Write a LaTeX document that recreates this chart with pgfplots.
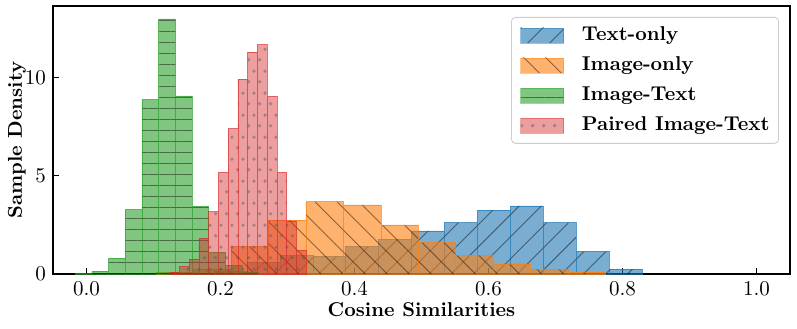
\documentclass[border=0pt]{standalone}
\usepackage{fontspec}
\usepackage{pgfplots}
\pgfplotsset{compat=1.18}
\usetikzlibrary{patterns.meta}

\definecolor{tabblue}{HTML}{1F77B4}
\definecolor{taborange}{HTML}{FF7F0E}
\definecolor{tabgreen}{HTML}{2CA02C}
\definecolor{tabred}{HTML}{D62728}
\definecolor{dotgray}{HTML}{4A5A64}

% staggered dots, like matplotlib's '.' hatch
\tikzdeclarepattern{
  name=stagdots,
  type=uncolored,
  bottom left={(0pt,0pt)},
  top right={(5.65pt,11pt)},
  tile size={(5.65pt,11pt)},
  code={
    \fill (1.4pt,2.75pt) circle[radius=0.95pt];
    \fill (4.225pt,8.25pt) circle[radius=0.95pt];
  }
}

\pgfplotsset{
  histbar/.style={
    ybar interval, line width=0.25pt,
    legend image code/.code={\fill[##1, draw=none, sharp corners] (0pt,-3.7pt) rectangle (21.5pt,3.7pt);},
  },
}

\begin{document}
\begin{tikzpicture}
\begin{axis}[
  scale only axis,
  width=368.5pt, height=134pt,
  xmin=-0.05, xmax=1.05,
  ymin=0, ymax=13.65,
  xtick={0,0.2,0.4,0.6,0.8,1.0},
  ytick={0,5,10},
  tick align=inside,
  xtick pos=left, ytick pos=left,
  major tick length=3pt,
  axis line style={line width=0.6pt},
  tick style={line width=0.5pt, black},
  /pgf/number format/assume math mode=true,
  ticklabel style={font=\fontsize{10.5}{12}\selectfont},
  xticklabel style={/pgf/number format/.cd, fixed, fixed zerofill, precision=1},
  yticklabel style={/pgf/number format/.cd, fixed, precision=0},
  xlabel={\textbf{Cosine Similarities}},
  ylabel={\textbf{Sample Density}},
  label style={font=\fontsize{10}{12}\selectfont},
  xlabel style={at={(axis description cs:0.5,-0.159)}, anchor=base},
  ylabel style={at={(axis description cs:-0.049,0.5)}, anchor=center},
  legend cell align=left,
  legend style={
    at={(axis description cs:0.985,0.959)}, anchor=north east,
    draw=black!20, rounded corners=2pt, fill=white, fill opacity=0.8, text opacity=1,
    font=\fontsize{10}{12}\selectfont\bfseries,
    inner xsep=4.5pt, inner ysep=4.5pt,
    nodes={inner sep=0pt, text height=7pt, text depth=2pt},
    row sep=6pt, column sep=9pt,
  },
]
% Text-only
\addplot[histbar, fill=tabblue, draw=tabblue, fill opacity=0.6, draw opacity=0.45,
  postaction={pattern={Lines[angle=45,distance=7.8pt,line width=0.45pt]}, pattern color=black}]
  coordinates {
    (0.1903,0.15)(0.2394,0.60)(0.2886,0.95)(0.3377,0.90)(0.3869,1.39)
    (0.4360,1.76)(0.4851,2.20)(0.5343,2.62)(0.5834,3.25)(0.6325,3.47)
    (0.6817,2.62)(0.7308,1.15)(0.7800,0.25)(0.8291,0.25)
  };
% Image-only
\addplot[histbar, fill=taborange, draw=taborange, fill opacity=0.6, draw opacity=0.45,
  postaction={pattern={Lines[angle=-45,distance=7.8pt,line width=0.45pt]}, pattern color=black}]
  coordinates {
    (0.1038,0.08)(0.1597,0.25)(0.2156,1.40)(0.2715,2.74)(0.3274,3.69)
    (0.3833,3.52)(0.4392,2.50)(0.4951,1.60)(0.5510,0.96)(0.6069,0.51)
    (0.6628,0.25)(0.7187,0.10)(0.7746,0.10)
  };
% Image-Text
\addplot[histbar, fill=tabgreen, draw=tabgreen, fill opacity=0.6, draw opacity=0.45,
  postaction={pattern={Lines[angle=0,distance=5.5pt,line width=0.45pt]}, pattern color=black}]
  coordinates {
    (-0.01698,0.05)(0.00793,0.15)(0.03284,0.81)(0.05775,3.28)(0.08266,8.88)
    (0.10757,13.00)(0.13248,9.07)(0.15739,3.44)(0.18230,1.12)(0.20721,0.45)
    (0.23212,0.10)(0.25703,0.10)
  };
% Paired Image-Text
\addplot[histbar, fill=tabred, draw=tabred, fill opacity=0.45, draw opacity=0.4,
  postaction={pattern=stagdots, pattern color=dotgray}]
  coordinates {
    (0.1241,0.10)(0.1387,0.37)(0.1532,0.76)(0.1678,1.81)(0.1823,3.18)
    (0.1968,5.18)(0.2114,7.40)(0.2259,9.93)(0.2405,11.30)(0.2550,11.68)
    (0.2695,9.05)(0.2841,5.18)(0.2986,2.70)(0.3132,1.20)(0.3277,1.20)
  };
\legend{Text-only, Image-only, Image-Text, Paired Image-Text}
\end{axis}
\pgfresetboundingbox
\path[use as bounding box] ([shift={(-26.5pt,-27pt)}]current axis.south west)
  rectangle ([shift={(3.5pt,3pt)}]current axis.north east);
\end{tikzpicture}
\end{document}
